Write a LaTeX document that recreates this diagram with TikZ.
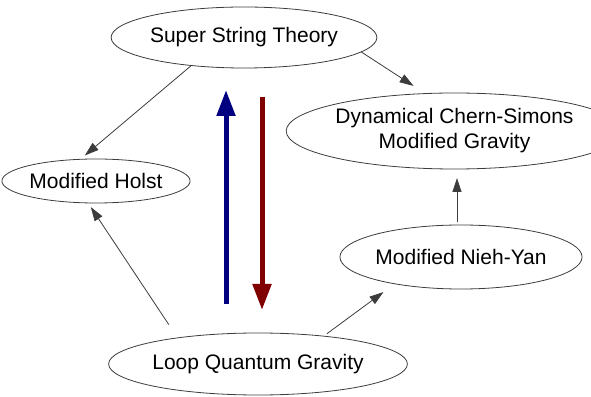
\documentclass[tikz,border=0pt]{standalone}
\usepackage{fontspec}
\setmainfont{Liberation Sans}
\usepackage{tikz}
\usetikzlibrary{shapes.geometric, arrows.meta, positioning, calc}
\usepackage{xcolor}
\definecolor{stringBlue}{RGB}{0, 0, 128}
\definecolor{loopRed}{RGB}{128, 0, 0}
\definecolor{edgeGray}{RGB}{60, 60, 60}

\begin{document}
\begin{tikzpicture}[x=1pt, y=1pt,
    theory/.style={ellipse, draw=edgeGray, line width=0.8pt, inner sep=0pt, outer sep=0pt, align=center, font=\fontsize{21}{25}\selectfont},
    arrow/.style={-{Triangle[length=14pt, width=9pt]}, line width=0.8pt, edgeGray},
    bigarrow/.style={-{Triangle[length=26pt, width=18pt]}, line width=5pt}
]
\useasboundingbox (0,0) rectangle (591,396);

% Theories
\node[theory, minimum width=218pt, minimum height=61pt] (sst)     at (244, 358.5) {Super String Theory};
\node[theory, minimum width=265pt, minimum height=76pt] (dcs)     at (454.5, 265) {Dynamical Chern-Simons\\Modified Gravity};
\node[theory, minimum width=172pt, minimum height=44pt] (holst)   at (96, 215)    {Modified Holst};
\node[theory, minimum width=212pt, minimum height=64pt] (niehyan) at (461, 139)   {Modified Nieh-Yan};
\node[theory, minimum width=256pt, minimum height=62pt] (lqg)     at (258, 32)    {Loop Quantum Gravity};

% Ends of the two thick arrows
\coordinate (blueStart) at (226, 92);
\coordinate (blueEnd)   at (226, 306);
\coordinate (redStart)  at (262, 299);
\coordinate (redEnd)    at (262, 86);

% Thin links
\draw[arrow, shorten >=6pt] (sst.208) -- (holst.126);
\draw[arrow, shorten >=14pt] (sst.353) -- (dcs.128);
\draw[arrow, shorten <=3pt, shorten >=9pt] ([xshift=-4pt]niehyan.north) -- ([xshift=2.5pt]dcs.south);
\draw[arrow, shorten <=16pt, shorten >=5pt] (lqg.162) -- (holst.250);
\draw[arrow, shorten <=4pt, shorten >=14pt] (lqg.23.5) -- (niehyan.202);

% Thick arrows
\draw[bigarrow, stringBlue] (blueStart) -- (blueEnd);
\draw[bigarrow, loopRed] (redStart) -- (redEnd);

\end{tikzpicture}
\end{document}
